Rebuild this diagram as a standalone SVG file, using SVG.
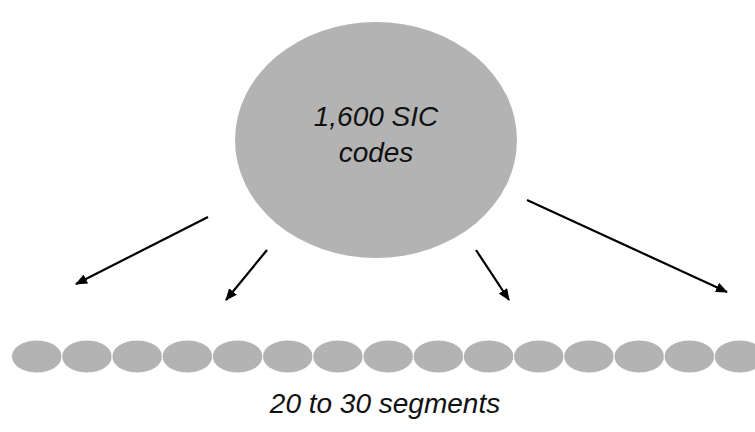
<svg xmlns="http://www.w3.org/2000/svg" width="755" height="432" viewBox="0 0 755 432">
  <style>
    .blob { fill: #b3b3b3; }
    .seg { fill: #b3b3b3; stroke: #ffffff; stroke-width: 1; }
    .label { font-family: "Liberation Sans", Arial, Helvetica, sans-serif; font-style: italic; font-size: 28px; fill: #111111; text-anchor: middle; }
    .arrow { stroke: #000000; stroke-width: 2.2; fill: none; marker-end: url(#head); }
  </style>
  <defs>
    <marker id="head" viewBox="0 0 12 10" refX="11" refY="5" markerWidth="12" markerHeight="10" markerUnits="userSpaceOnUse" orient="auto">
      <path d="M0,0 L12,5 L0,10 z" fill="#000000"/>
    </marker>
  </defs>
  <rect width="755" height="432" fill="#ffffff"/>

  <!-- source set -->
  <g id="sic-codes">
    <ellipse class="blob" cx="376" cy="140" rx="141" ry="118"/>
    <text class="label" x="376" y="126">1,600 SIC</text>
    <text class="label" x="376" y="162">codes</text>
  </g>

  <!-- split arrows -->
  <g id="connectors">
    <line class="arrow" x1="208" y1="217" x2="76" y2="284"/>
    <line class="arrow" x1="267" y1="250" x2="226" y2="300"/>
    <line class="arrow" x1="476" y1="250" x2="509" y2="300"/>
    <line class="arrow" x1="527" y1="200" x2="727" y2="292"/>
  </g>

  <!-- resulting segments -->
  <g id="segments">
    <ellipse class="seg" cx="36.8" cy="356.5" rx="25.3" ry="16.5"/>
    <ellipse class="seg" cx="87" cy="356.5" rx="25.3" ry="16.5"/>
    <ellipse class="seg" cx="137.2" cy="356.5" rx="25.3" ry="16.5"/>
    <ellipse class="seg" cx="187.4" cy="356.5" rx="25.3" ry="16.5"/>
    <ellipse class="seg" cx="237.6" cy="356.5" rx="25.3" ry="16.5"/>
    <ellipse class="seg" cx="287.8" cy="356.5" rx="25.3" ry="16.5"/>
    <ellipse class="seg" cx="338" cy="356.5" rx="25.3" ry="16.5"/>
    <ellipse class="seg" cx="388.2" cy="356.5" rx="25.3" ry="16.5"/>
    <ellipse class="seg" cx="438.4" cy="356.5" rx="25.3" ry="16.5"/>
    <ellipse class="seg" cx="488.6" cy="356.5" rx="25.3" ry="16.5"/>
    <ellipse class="seg" cx="538.8" cy="356.5" rx="25.3" ry="16.5"/>
    <ellipse class="seg" cx="589" cy="356.5" rx="25.3" ry="16.5"/>
    <ellipse class="seg" cx="639.2" cy="356.5" rx="25.3" ry="16.5"/>
    <ellipse class="seg" cx="689.4" cy="356.5" rx="25.3" ry="16.5"/>
    <ellipse class="seg" cx="739.6" cy="356.5" rx="25.3" ry="16.5"/>
  </g>

  <g id="caption">
    <text class="label" x="385" y="413">20 to 30 segments</text>
  </g>
</svg>
